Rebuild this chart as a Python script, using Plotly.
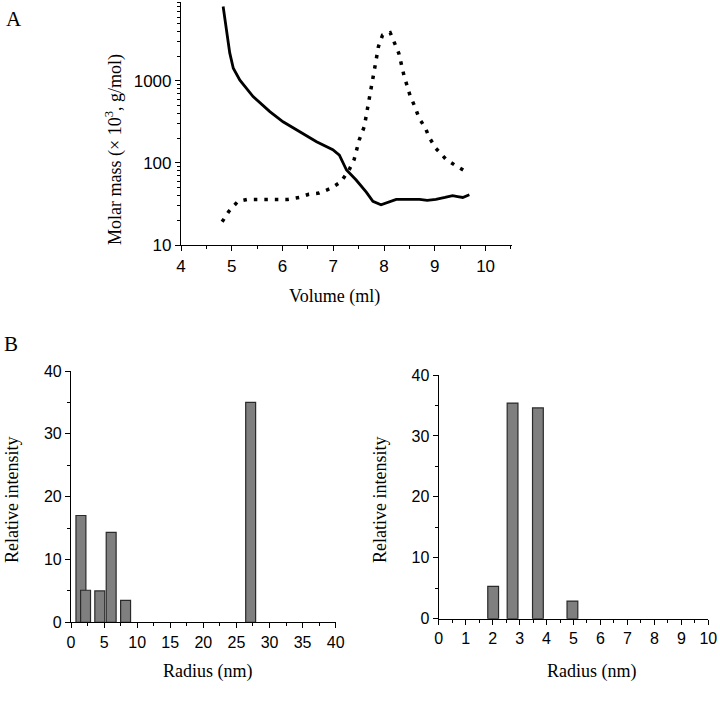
import plotly.graph_objects as go

# ---------------- Data ----------------
# Panel A: molar mass (solid) and detector signal (dotted) vs elution volume
vol_solid = [4.83, 4.90, 4.96, 5.03, 5.16, 5.42, 5.75, 6.01, 6.41, 6.67, 6.99, 7.12,
             7.26, 7.45, 7.65, 7.78, 7.94, 8.05, 8.24, 8.50, 8.70, 8.85, 9.02, 9.20,
             9.35, 9.45, 9.55, 9.68]
mass_solid = [8100, 3800, 2200, 1430, 1025, 645, 423, 318, 229, 182, 145, 125,
              82, 62, 44, 34, 31, 33, 36, 36, 36, 35, 36, 38,
              40, 39, 38, 41]

vol_dot = [4.81, 4.94, 5.12, 5.31, 5.51, 5.70, 5.90, 6.10, 6.33, 6.52, 6.72, 6.95,
           7.15, 7.31, 7.41, 7.51, 7.61, 7.67, 7.74, 7.82, 7.89, 7.97, 8.12, 8.20,
           8.29, 8.39, 8.51, 8.61, 8.69, 8.81, 8.89, 9.02, 9.22, 9.41, 9.64]
mass_dot = [19.2, 25.6, 34, 36, 36, 36, 36, 36, 38, 41.6, 43, 49,
            59, 82, 110, 191, 277, 466, 810, 1490, 2640, 3630, 3890, 2880,
            2180, 1180, 670, 480, 351, 270, 205, 151, 111, 93, 77]

# Panel B (left): radius distribution
radius_left = [1.5, 2.2, 4.35, 6.07, 8.25, 27.15]
intensity_left = [17.0, 5.1, 5.0, 14.3, 3.5, 35.0]

# Panel B (right): radius distribution
radius_right = [2.02, 2.74, 3.68, 4.96]
intensity_right = [5.3, 35.4, 34.6, 2.9]

A_xticks = [4, 5, 6, 7, 8, 9, 10]
A_yticks = [10, 100, 1000]
A_yminor = [20, 30, 40, 50, 60, 70, 80, 90,
            200, 300, 400, 500, 600, 700, 800, 900,
            2000, 3000, 4000, 5000, 6000, 7000, 8000, 9000]
BL_xticks = [0, 5, 10, 15, 20, 25, 30, 35, 40]
BR_xticks = list(range(0, 11))
B_yticks = [0, 10, 20, 30, 40]

# ---------------- Layout helpers ----------------
W, H = 720, 706

def px_x(px):
    return px / W

def px_y(py):
    return 1 - py / H

serif = "Liberation Serif, Times New Roman, serif"
sans = "Liberation Sans, Arial, sans-serif"
BAR_FILL = "#7f7f7f"
BAR_LINE = "#2a2a2a"

fig = go.Figure()

fig.add_trace(go.Scatter(x=vol_solid, y=mass_solid, mode="lines",
                         line=dict(color="black", width=2.8),
                         xaxis="x", yaxis="y", showlegend=False))
fig.add_trace(go.Scatter(x=vol_dot, y=mass_dot, mode="lines",
                         line=dict(color="black", width=3.5, dash="3.5px,7px"),
                         xaxis="x", yaxis="y", showlegend=False))

fig.add_trace(go.Bar(x=radius_left, y=intensity_left, width=1.5,
                     marker=dict(color=BAR_FILL, line=dict(color=BAR_LINE, width=1.2)),
                     xaxis="x2", yaxis="y2", showlegend=False))
fig.add_trace(go.Bar(x=radius_right, y=intensity_right, width=0.4,
                     marker=dict(color=BAR_FILL, line=dict(color=BAR_LINE, width=1.2)),
                     xaxis="x3", yaxis="y3", showlegend=False))

axis_common = dict(showline=True, linecolor="black", linewidth=1.2, showgrid=False,
                   zeroline=False, ticks="outside", tickcolor="black", ticklen=5,
                   tickwidth=1, automargin=False)

fig.update_layout(
    width=W, height=H,
    margin=dict(l=0, r=0, t=0, b=0, autoexpand=False),
    paper_bgcolor="white", plot_bgcolor="white",
    barmode="overlay",
    xaxis=dict(axis_common, domain=[px_x(181), px_x(512)], range=[4, 10.52],
               tickvals=A_xticks, anchor="y",
               tickfont=dict(family=sans, size=17, color="black"),
               minor=dict(ticks="outside", ticklen=3, dtick=0.5, tickcolor="black")),
    yaxis=dict(axis_common, domain=[px_y(245), px_y(2)], type="log", range=[1, 3.963],
               tickvals=A_yticks, ticktext=[str(v) for v in A_yticks], anchor="x",
               tickfont=dict(family=sans, size=17, color="black"),
               minor=dict(ticks="outside", ticklen=3, tickvals=A_yminor, tickcolor="black")),
    xaxis2=dict(axis_common, domain=[px_x(71), px_x(335.7)], range=[0, 40],
                tickvals=BL_xticks, anchor="y2",
                tickfont=dict(family=sans, size=16, color="black"),
                minor=dict(ticks="outside", ticklen=3, dtick=2.5, tickcolor="black")),
    yaxis2=dict(axis_common, domain=[px_y(622.3), px_y(371)], range=[0, 40],
                tickvals=B_yticks, anchor="x2",
                tickfont=dict(family=sans, size=16, color="black"),
                minor=dict(ticks="outside", ticklen=3, dtick=5, tickcolor="black")),
    xaxis3=dict(axis_common, domain=[px_x(438.7), px_x(708.3)], range=[0, 10],
                tickvals=BR_xticks, anchor="y3",
                tickfont=dict(family=sans, size=16, color="black"),
                minor=dict(ticks="outside", ticklen=3, dtick=0.5, tickcolor="black")),
    yaxis3=dict(axis_common, domain=[px_y(618.7), px_y(375)], range=[0, 40],
                tickvals=B_yticks, anchor="x3",
                tickfont=dict(family=sans, size=16, color="black"),
                minor=dict(ticks="outside", ticklen=3, dtick=5, tickcolor="black")),
)

def ann(text, x, y, size=18, angle=0):
    fig.add_annotation(text=text, x=px_x(x), y=px_y(y), xref="paper", yref="paper",
                       showarrow=False, textangle=angle, xanchor="center", yanchor="middle",
                       font=dict(family=serif, size=size, color="black"))

ann("A", 14, 19, size=21)
ann("B", 11, 344, size=21)
ann("Molar mass (× 10<sup>3</sup>, g/mol)", 114, 150, angle=-90)
ann("Volume (ml)", 334, 297)
ann("Relative intensity", 12, 500, angle=-90)
ann("Radius (nm)", 208, 671)
ann("Relative intensity", 380, 500, angle=-90)
ann("Radius (nm)", 592, 671)

fig.write_html("out.html",
               config={"displayModeBar": False},
               post_script="document.body.style.margin='0';document.body.style.overflow='hidden';")
